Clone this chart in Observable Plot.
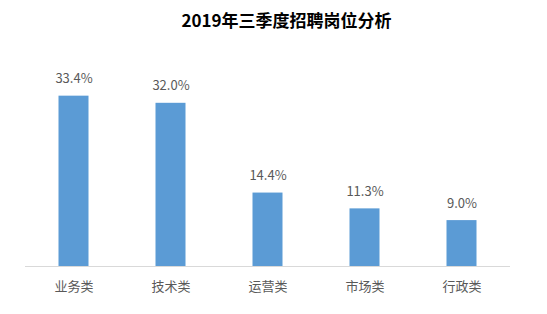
<!DOCTYPE html>
<html>
<head>
<meta charset="utf-8">
<script src="https://cdn.jsdelivr.net/npm/d3@7"></script>
<script src="https://cdn.jsdelivr.net/npm/@observablehq/plot@0.6"></script>
<style>
  html, body { margin: 0; padding: 0; background: #fff; }
  #chart { width: 547px; height: 314px; }
</style>
</head>
<body>
<div id="chart"></div>
<script>
const title = "2019年三季度招聘岗位分析";
const categories = ["业务类", "技术类", "运营类", "市场类", "行政类"];
const values = [33.4, 32.0, 14.4, 11.3, 9.0];

const data = categories.map((c, i) => ({category: c, value: values[i]}));
const font = "'Noto Sans CJK SC', 'Noto Sans', sans-serif";

const chart = Plot.plot({
  width: 547,
  height: 314,
  marginTop: 62,
  marginBottom: 48,
  marginLeft: 25,
  marginRight: 37,
  style: {fontFamily: font, background: "#fff"},
  x: {domain: categories, padding: 0, label: null, tickSize: 0, tickPadding: 14},
  y: {domain: [0, 40], axis: null},
  marks: [
    Plot.barY(data, {x: "category", y: "value", fill: "#5B9BD5", insetLeft: 33.5, insetRight: 33.5}),
    Plot.ruleY([0], {stroke: "#D9D9D9", strokeWidth: 1}),
    Plot.text(data, {x: "category", y: "value", text: d => d.value.toFixed(1) + "%", dy: -17, fill: "#595959", fontSize: 13}),
    Plot.axisX({tickSize: 0, tickPadding: 15, fontSize: 13, fill: "#595959", label: null, fontFamily: font}),
    Plot.text([title], {frameAnchor: "top", dy: -48, dx: 18.5, text: d => d, fontSize: 17, fontWeight: "bold", fill: "#000"})
  ]
});
document.getElementById("chart").appendChild(chart);
</script>
</body>
</html>
